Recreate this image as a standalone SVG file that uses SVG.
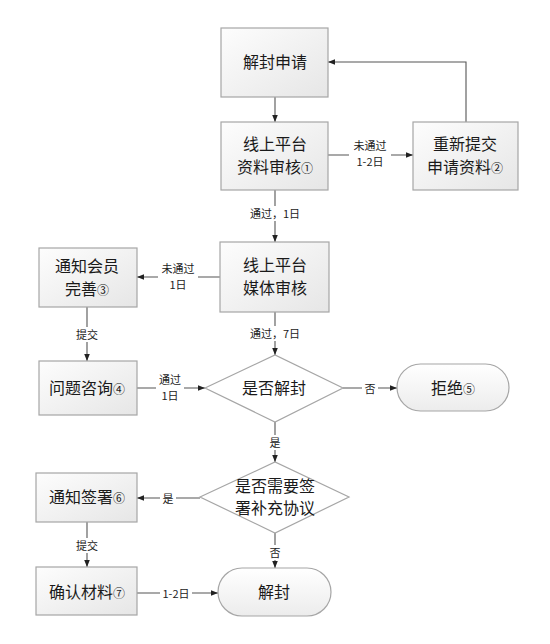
<svg xmlns="http://www.w3.org/2000/svg" width="550" height="644" viewBox="0 0 550 644">
<defs>
<linearGradient id="gb" x1="0" y1="0" x2="1" y2="1">
<stop offset="0" stop-color="#fdfdfd"/>
<stop offset="1" stop-color="#e6e6e6"/>
</linearGradient>
<linearGradient id="gt" x1="0" y1="0" x2="0" y2="1">
<stop offset="0" stop-color="#ffffff"/>
<stop offset="1" stop-color="#ececec"/>
</linearGradient>
<marker id="ar" viewBox="0 0 10 10" refX="10" refY="5" markerWidth="7" markerHeight="7" orient="auto" markerUnits="userSpaceOnUse">
<path d="M0,1 L10,5 L0,9 z" fill="#222"/>
</marker>
</defs>
<style>
.box{fill:url(#gb);stroke:#a6a6a6;stroke-width:1.2}
.term{fill:url(#gt);stroke:#a6a6a6;stroke-width:1.2}
.dia{fill:#ffffff;stroke:#a6a6a6;stroke-width:1.2}
.t{font-family:"Noto Sans CJK SC","Liberation Sans",sans-serif;font-size:16px;fill:#1a1a1a;text-anchor:middle}
.n{font-size:12px}
.l{font-family:"Noto Sans CJK SC","Liberation Sans",sans-serif;font-size:11px;fill:#222;text-anchor:middle}
.c{fill:none;stroke:#555;stroke-width:1.1}
.bg{fill:#ffffff}
</style>
<rect width="550" height="644" fill="#ffffff"/>
<g id="connectors">
<path class="c" d="M275,97 V122" marker-end="url(#ar)"/>
<path class="c" d="M328,155 H413" marker-end="url(#ar)"/>
<path class="c" d="M466,122 V62 H328" marker-end="url(#ar)"/>
<path class="c" d="M275,190 V242" marker-end="url(#ar)"/>
<path class="c" d="M220,277 H137" marker-end="url(#ar)"/>
<path class="c" d="M87,307 V361" marker-end="url(#ar)"/>
<path class="c" d="M275,312 V355" marker-end="url(#ar)"/>
<path class="c" d="M137,388 H205" marker-end="url(#ar)"/>
<path class="c" d="M343,388 H397" marker-end="url(#ar)"/>
<path class="c" d="M275,422 V462" marker-end="url(#ar)"/>
<path class="c" d="M200,498 H137" marker-end="url(#ar)"/>
<path class="c" d="M87,522 V567" marker-end="url(#ar)"/>
<path class="c" d="M275,533 V568" marker-end="url(#ar)"/>
<path class="c" d="M137,593 H218" marker-end="url(#ar)"/>
<rect class="bg" x="349" y="137" width="42" height="34"/>
<text class="l" x="370" y="150">未通过</text>
<text class="l" x="370" y="166">1-2日</text>
<rect class="bg" x="243" y="206" width="64" height="15"/>
<text class="l" x="275" y="218">通过，1日</text>
<rect class="bg" x="158" y="260" width="40" height="34"/>
<text class="l" x="178" y="273">未通过</text>
<text class="l" x="178" y="289">1日</text>
<rect class="bg" x="156" y="371" width="28" height="34"/>
<text class="l" x="170" y="384">通过</text>
<text class="l" x="170" y="400">1日</text>
<rect class="bg" x="74" y="327" width="26" height="15"/>
<text class="l" x="87" y="339">提交</text>
<rect class="bg" x="243" y="326" width="64" height="15"/>
<text class="l" x="275" y="338">通过，7日</text>
<rect class="bg" x="362" y="381" width="16" height="15"/>
<text class="l" x="370" y="393">否</text>
<rect class="bg" x="267" y="435" width="16" height="15"/>
<text class="l" x="275" y="447">是</text>
<rect class="bg" x="160" y="491" width="16" height="15"/>
<text class="l" x="168" y="503">是</text>
<rect class="bg" x="74" y="538" width="26" height="15"/>
<text class="l" x="87" y="550">提交</text>
<rect class="bg" x="267" y="545" width="16" height="15"/>
<text class="l" x="275" y="557">否</text>
<rect class="bg" x="160" y="586" width="32" height="15"/>
<text class="l" x="176" y="598">1-2日</text>
</g>
<g id="n1">
<rect class="box" x="221" y="28" width="107" height="69"/>
<text class="t" x="275" y="68">解封申请</text>
</g>
<g id="n2">
<rect class="box" x="221" y="122" width="107" height="68"/>
<text class="t" x="275" y="150">线上平台</text>
<text class="t" x="275" y="173">资料审核<tspan class="n">①</tspan></text>
</g>
<g id="n3">
<rect class="box" x="413" y="122" width="105" height="68"/>
<text class="t" x="465" y="150">重新提交</text>
<text class="t" x="465" y="173">申请资料<tspan class="n">②</tspan></text>
</g>
<g id="n4">
<rect class="box" x="220" y="242" width="109" height="70"/>
<text class="t" x="275" y="271">线上平台</text>
<text class="t" x="275" y="294">媒体审核</text>
</g>
<g id="n5">
<rect class="box" x="39" y="248" width="98" height="59"/>
<text class="t" x="87" y="272">通知会员</text>
<text class="t" x="87" y="295">完善<tspan class="n">③</tspan></text>
</g>
<g id="n6">
<rect class="box" x="39" y="361" width="98" height="54"/>
<text class="t" x="87" y="394">问题咨询<tspan class="n">④</tspan></text>
</g>
<g id="n7">
<path class="dia" d="M205,388 L275,355 L343,388 L275,422 Z"/>
<text class="t" x="274" y="394">是否解封</text>
</g>
<g id="n8">
<rect class="term" x="397" y="364" width="112" height="47" rx="23.5"/>
<text class="t" x="453" y="394">拒绝<tspan class="n">⑤</tspan></text>
</g>
<g id="n9">
<path class="dia" d="M200,497 L275,462 L349,497 L275,533 Z"/>
<text class="t" x="275" y="492">是否需要签</text>
<text class="t" x="275" y="514">署补充协议</text>
</g>
<g id="n10">
<rect class="box" x="36" y="473" width="101" height="49"/>
<text class="t" x="87" y="503">通知签署<tspan class="n">⑥</tspan></text>
</g>
<g id="n11">
<rect class="box" x="36" y="567" width="101" height="48"/>
<text class="t" x="87" y="598">确认材料<tspan class="n">⑦</tspan></text>
</g>
<g id="n12">
<rect class="term" x="218" y="568" width="113" height="48" rx="24"/>
<text class="t" x="274" y="598">解封</text>
</g>
</svg>
